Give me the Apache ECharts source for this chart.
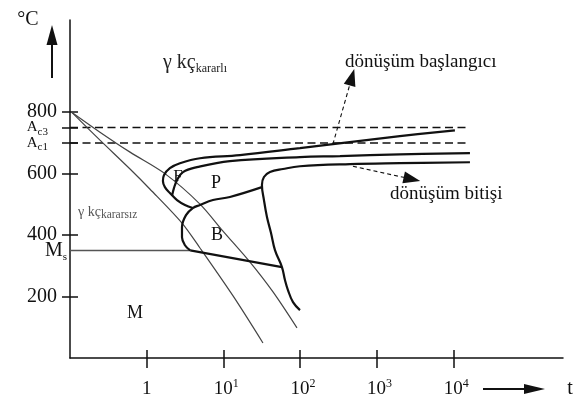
<!DOCTYPE html>
<html>
<head>
<meta charset="utf-8">
<script src="https://cdn.jsdelivr.net/npm/echarts@6/dist/echarts.min.js"></script>
<style>
  html, body { margin: 0; padding: 0; background: #fff; }
  #c { width: 583px; height: 410px; }
</style>
</head>
<body>
<div id="c"></div>
<script>
// Axis ticks: time in seconds (log scale), temperature in °C
const timeTicks = [1, 10, 100, 1000, 10000];
const tempTicks = [200, 400, 600, 800];

// Critical temperatures (°C)
const Ac3 = 750;
const Ac1 = 700;
const Ms = 350;

// Cooling curves, [t (s), T (°C)]
const coolingSlow = [[0.105, 800], [0.246, 735], [0.607, 670], [1.73, 600], [4.96, 501], [9.9, 413], [22.3, 312], [44.5, 215], [91.4, 98]];
const coolingFast = [[0.105, 800], [0.246, 709], [0.607, 615], [1.10, 550], [2.89, 439], [4.96, 358], [13.4, 202], [32.9, 49]];

// Transformation curves, [t (s), T (°C)]
const ferriteStart = [[10500, 741], [2010, 722], [269, 696], [100, 683], [16.5, 660], [4.96, 650], [2.72, 634], [2.01, 618], [1.68, 595], [1.63, 576], [1.73, 556], [2.01, 537], [2.49, 514], [3.16, 498], [4.0, 488]];
const ferriteEnd = [[16500, 667], [2010, 663], [332, 657], [100, 654], [12.2, 641], [4.53, 621], [2.98, 605], [2.49, 579], [2.27, 553], [2.14, 527]];
const pearliteEnd = [[16500, 637], [2010, 634], [449, 631], [100, 624], [60, 615], [40.6, 605], [33.9, 589], [31.9, 563], [33.9, 514], [37.1, 459], [41.9, 407], [47.2, 351], [58.2, 296], [63.7, 254], [69.7, 221], [81.1, 182], [100, 156]];
const bainiteStart = [[31.9, 556], [12.2, 524], [7.33, 514], [4.96, 498], [4.0, 488], [3.26, 465], [2.89, 426], [2.89, 393], [3.16, 367], [3.7, 350]];
const bainiteEnd = [[3.7, 350], [58.2, 296]];
const msLine = [[0.1, Ms], [3.7, Ms]];
const ac3Line = [[0.1, Ac3], [16500, Ac3]];
const ac1Line = [[0.1, Ac1], [15000, Ac1]];

// Pointer arrows: [from, to]
const startPointer = [[269, 696], [476, 914]];
const endPointer = [[491, 624], [2890, 582]];

const SERIF = "'Liberation Serif', 'Times New Roman', serif";
const INK = '#111';

const chart = echarts.init(document.getElementById('c'));

function curve(name, data, color, width, extra) {
  return Object.assign({
    name: name,
    type: 'line',
    data: data,
    smooth: 0.4,
    symbol: 'none',
    showSymbol: false,
    silent: true,
    clip: false,
    lineStyle: { color: color, width: width }
  }, extra || {});
}

function timeLabel(v) {
  const e = Math.round(Math.log10(v));
  return e === 0 ? '{b|1}' : '{l| }{b|10}{p|' + e + '}';
}

function tempLabel(v) {
  if (v === Ac3) return '{a|A}{as|c3}';
  if (v === Ac1) return '{a|A}{as|c1}';
  if (v === Ms) return '{m|M}{ms|s}';
  return '{n|' + v + '}';
}

const tempRich = {
  n: { fontSize: 20, fontFamily: SERIF, color: INK, padding: [0, 10, 0, 0] },
  a: { fontSize: 15, fontFamily: SERIF, color: INK, lineHeight: 20 },
  as: { fontSize: 11, fontFamily: SERIF, color: INK, lineHeight: 11, verticalAlign: 'bottom', padding: [0, 19, 0, 0] },
  m: { fontSize: 20, fontFamily: SERIF, color: INK, lineHeight: 24 },
  ms: { fontSize: 11, fontFamily: SERIF, color: INK, lineHeight: 11, verticalAlign: 'bottom' }
};

const xCommon = { type: 'log', logBase: 10, min: 0.1, max: 270000, splitLine: { show: false }, minorTick: { show: false } };
const yCommon = { type: 'value', min: 0, max: 1100, position: 'left', splitLine: { show: false } };
const tickStyle = { color: INK, width: 1.5 };

// A temperature axis that only carries ticks (and optionally labels) at given values
function tempAxis(tickValues, labelValues, inside) {
  return Object.assign({}, yCommon, {
    axisLine: { show: false, onZero: false },
    axisTick: { show: true, inside: !!inside, customValues: tickValues, length: 8, lineStyle: tickStyle },
    axisLabel: labelValues
      ? { show: true, customValues: labelValues, margin: 3, formatter: tempLabel, hideOverlap: false, rich: tempRich }
      : { show: false }
  });
}

const mainY = tempAxis(tempTicks, [200, Ms, 400, 600, 800], false);
mainY.axisLine = { show: true, onZero: false, lineStyle: { color: INK, width: 1.5 } };

chart.setOption({
  animation: false,
  backgroundColor: '#fff',
  grid: { left: 70, right: 20, top: 20, bottom: 52, containLabel: false },
  xAxis: [
    Object.assign({}, xCommon, {
      position: 'bottom',
      axisLine: { show: true, onZero: false, lineStyle: { color: INK, width: 1.5 } },
      axisTick: { show: true, customValues: timeTicks, length: 10, lineStyle: tickStyle },
      axisLabel: {
        show: true, customValues: timeTicks, margin: 20, formatter: timeLabel, hideOverlap: false,
        rich: {
          b: { fontSize: 19, fontFamily: SERIF, color: INK, lineHeight: 22 },
          p: { fontSize: 12, fontFamily: SERIF, color: INK, lineHeight: 12, verticalAlign: 'top' },
          l: { width: 6, fontSize: 12 }
        }
      }
    }),
    Object.assign({}, xCommon, {
      position: 'bottom',
      axisLine: { show: false, onZero: false },
      axisTick: { show: true, inside: true, customValues: timeTicks, length: 8, lineStyle: tickStyle },
      axisLabel: { show: false }
    })
  ],
  yAxis: [
    mainY,
    tempAxis(tempTicks.concat([Ac1, Ac3]), null, true),
    tempAxis([Ac1], [Ac1], false),
    tempAxis([Ac3], [Ac3], false)
  ],
  series: [
    curve('Ac3', ac3Line, INK, 1.5, { smooth: false, lineStyle: { color: INK, width: 1.5, type: [8, 4.5] } }),
    curve('Ac1', ac1Line, INK, 1.5, { smooth: false, lineStyle: { color: INK, width: 1.5, type: [8, 4.5] } }),
    curve('Ms', msLine, '#555', 1.5, { smooth: false }),
    curve('yavaş soğuma', coolingSlow, '#444', 1.2, { smooth: 0.3 }),
    curve('hızlı soğuma', coolingFast, '#444', 1.2, { smooth: 0.3 }),
    curve('ferrit başlangıcı', ferriteStart, INK, 2.2),
    curve('ferrit bitişi', ferriteEnd, INK, 2.2),
    curve('beynit başlangıcı', bainiteStart, INK, 2.2),
    curve('beynit bitişi', bainiteEnd, INK, 2.2, { smooth: false }),
    curve('perlit bitişi', pearliteEnd, INK, 2.2, {
      markLine: {
        silent: true,
        symbol: ['none', 'triangle'],
        symbolSize: [12, 17],
        label: { show: false },
        lineStyle: { color: INK, width: 1.1, type: [4, 3] },
        data: [
          [{ coord: startPointer[0] }, { coord: startPointer[1] }],
          [{ coord: endPointer[0] }, { coord: endPointer[1] }]
        ]
      }
    })
  ],
  graphic: [
    { type: 'text', x: 28, y: 20, style: { text: '°C', font: '20px ' + SERIF, fill: INK, align: 'center', verticalAlign: 'middle', textAlign: 'center', textVerticalAlign: 'middle' } },
    { type: 'line', shape: { x1: 52, y1: 78, x2: 52, y2: 42 }, style: { stroke: INK, lineWidth: 2 } },
    { type: 'polygon', shape: { points: [[52, 25], [46.5, 45], [57.5, 45]] }, style: { fill: INK } },
    { type: 'line', shape: { x1: 483, y1: 389, x2: 528, y2: 389 }, style: { stroke: INK, lineWidth: 1.8 } },
    { type: 'polygon', shape: { points: [[545, 389], [524, 384], [524, 394]] }, style: { fill: INK } },
    { type: 'text', x: 570, y: 389, style: { text: 't', font: '20px ' + SERIF, fill: INK, align: 'center', verticalAlign: 'middle', textAlign: 'center', textVerticalAlign: 'middle' } },
    { type: 'text', x: 163, y: 63, style: {
        text: '{m|γ kç}{s|kararlı}', verticalAlign: 'middle', textVerticalAlign: 'middle',
        rich: {
          m: { fontSize: 20, fontFamily: SERIF, fill: '#222', lineHeight: 24 },
          s: { fontSize: 12, fontFamily: SERIF, fill: '#222', lineHeight: 12, verticalAlign: 'bottom' }
        } } },
    { type: 'text', x: 78, y: 212, style: {
        text: '{m|γ kç}{s|kararsız}', verticalAlign: 'middle', textVerticalAlign: 'middle',
        rich: {
          m: { fontSize: 14, fontFamily: SERIF, fill: '#555', lineHeight: 18 },
          s: { fontSize: 11.5, fontFamily: SERIF, fill: '#555', lineHeight: 11, verticalAlign: 'bottom' }
        } } },
    { type: 'text', x: 178, y: 177, style: { text: 'F', font: '17px ' + SERIF, fill: INK, align: 'center', verticalAlign: 'middle', textAlign: 'center', textVerticalAlign: 'middle' } },
    { type: 'text', x: 216, y: 183, style: { text: 'P', font: '18px ' + SERIF, fill: INK, align: 'center', verticalAlign: 'middle', textAlign: 'center', textVerticalAlign: 'middle' } },
    { type: 'text', x: 217, y: 235, style: { text: 'B', font: '18px ' + SERIF, fill: INK, align: 'center', verticalAlign: 'middle', textAlign: 'center', textVerticalAlign: 'middle' } },
    { type: 'text', x: 135, y: 313, style: { text: 'M', font: '18px ' + SERIF, fill: INK, align: 'center', verticalAlign: 'middle', textAlign: 'center', textVerticalAlign: 'middle' } },
    { type: 'text', x: 345, y: 62, style: { text: 'dönüşüm başlangıcı', font: '19px ' + SERIF, fill: INK, align: 'left', verticalAlign: 'middle', textAlign: 'left', textVerticalAlign: 'middle' } },
    { type: 'text', x: 390, y: 194, style: { text: 'dönüşüm bitişi', font: '19px ' + SERIF, fill: INK, align: 'left', verticalAlign: 'middle', textAlign: 'left', textVerticalAlign: 'middle' } }
  ]
});
</script>
</body>
</html>
